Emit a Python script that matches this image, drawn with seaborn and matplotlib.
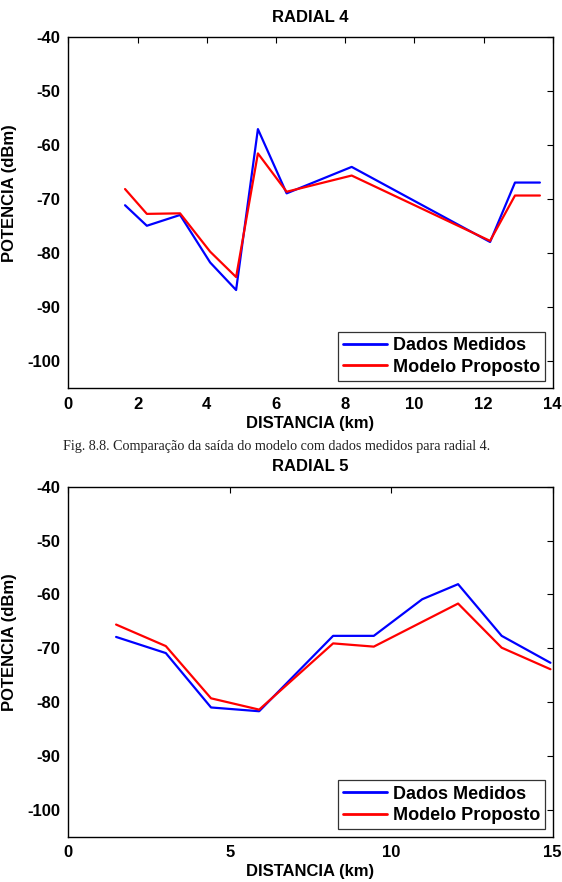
import matplotlib
matplotlib.use("Agg")
import matplotlib.pyplot as plt
import seaborn as sns
import pandas as pd

# ---- data: RADIAL 4 ----
r4_dist = [1.64, 2.27, 3.23, 4.10, 4.85, 5.48, 6.31, 8.19, 12.19, 12.91, 13.63]
r4_medidos = [-71.1, -74.9, -72.9, -81.7, -86.8, -57.0, -68.9, -64.0, -77.9, -66.9, -66.9]
r4_modelo = [-68.1, -72.7, -72.6, -79.7, -84.4, -61.5, -68.6, -65.6, -77.7, -69.3, -69.3]

# ---- data: RADIAL 5 ----
r5_dist = [1.48, 3.02, 4.42, 5.91, 8.20, 9.46, 10.96, 12.07, 13.42, 14.93]
r5_medidos = [-67.9, -70.9, -81.0, -81.7, -67.7, -67.7, -60.9, -58.1, -67.7, -72.7]
r5_modelo = [-65.6, -69.6, -79.3, -81.4, -69.1, -69.7, -65.1, -61.7, -69.9, -73.9]

series_names = ["Dados Medidos", "Modelo Proposto"]
series_colors = ["#0000ff", "#ff0000"]

r4_xticks = [0, 2, 4, 6, 8, 10, 12, 14]
r5_xticks = [0, 5, 10, 15]
yticks = [-100, -90, -80, -70, -60, -50, -40]

sns.set_style("white")
plt.rcParams["font.family"] = ["Liberation Sans", "DejaVu Sans"]
plt.rcParams["axes.unicode_minus"] = False
plt.rcParams["text.color"] = "black"
plt.rcParams["axes.labelcolor"] = "black"
plt.rcParams["xtick.color"] = "black"
plt.rcParams["ytick.color"] = "black"

W, H = 562, 882
fig = plt.figure(figsize=(W / 100, H / 100), dpi=100)


def make_axes(left, top, right, bottom):
    return fig.add_axes([left / W, 1 - bottom / H, (right - left) / W, (bottom - top) / H])


def draw(ax, dist, med, mod, xticks, xlim, title):
    df = pd.DataFrame({
        "dist": list(dist) + list(dist),
        "pot": list(med) + list(mod),
        "serie": [series_names[0]] * len(dist) + [series_names[1]] * len(dist),
    })
    sns.lineplot(data=df, x="dist", y="pot", hue="serie", palette=series_colors,
                 hue_order=series_names, sort=False, linewidth=1.6, ax=ax,
                 estimator=None)
    ax.set_xlim(*xlim)
    ax.set_ylim(-105, -40)
    ax.set_xticks(xticks)
    ax.set_yticks(yticks)
    ax.tick_params(direction="in", length=4, width=0.8, top=True, right=True,
                   labelsize=12, pad=6, colors="black")
    for lab in ax.get_xticklabels() + ax.get_yticklabels():
        lab.set_fontweight("bold")
    for sp in ax.spines.values():
        sp.set_color("black")
        sp.set_linewidth(1.0)
    ax.set_title(title, fontsize=12, fontweight="bold", pad=11, color="black")
    ax.set_xlabel("DISTANCIA (km)", fontsize=12, fontweight="bold", labelpad=3, color="black")
    ax.set_ylabel("POTENCIA (dBm)", fontsize=12, fontweight="bold", color="black")
    ax.yaxis.set_label_coords(-0.106, 0.555)
    leg = ax.legend(loc="lower right", frameon=True, fancybox=False,
                    prop={"weight": "bold", "size": 13}, handlelength=2.45,
                    handletextpad=0.3, borderpad=0.3, labelspacing=0.25,
                    borderaxespad=0.4)
    leg.get_frame().set_edgecolor("black")
    leg.get_frame().set_linewidth(0.9)
    for t in leg.get_texts():
        t.set_color("black")
    for ln in leg.get_lines():
        ln.set_linewidth(2.0)


ax1 = make_axes(68.3, 37.3, 552.7, 388.3)
draw(ax1, r4_dist, r4_medidos, r4_modelo, r4_xticks, (0, 14), "RADIAL 4")

ax2 = make_axes(68.3, 486.7, 552.7, 836.7)
draw(ax2, r5_dist, r5_medidos, r5_modelo, r5_xticks, (0, 15), "RADIAL 5")

fig.text(277 / W, 1 - 446 / H,
         "Fig. 8.8. Comparação da saída do modelo com dados medidos para radial 4.",
         ha="center", va="center", fontsize=10.2, family=["Liberation Serif", "DejaVu Serif"],
         color="#222222")

fig.savefig("out.png", dpi=100, facecolor="white")
